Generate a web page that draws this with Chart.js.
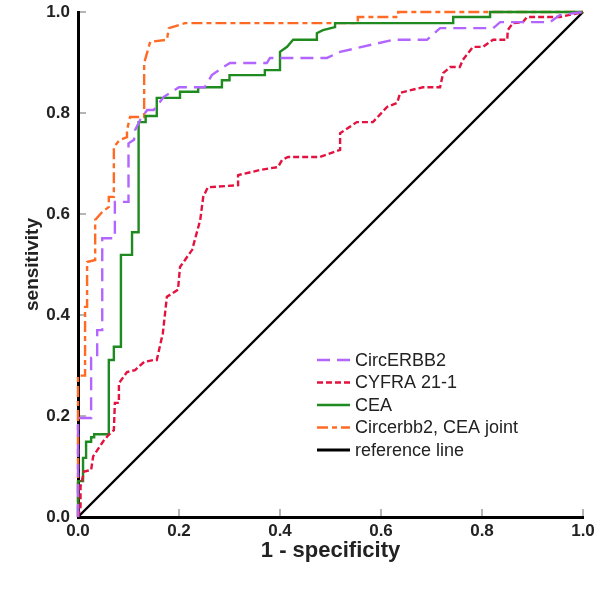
<!DOCTYPE html>
<html>
<head>
<meta charset="utf-8">
<script src="https://cdn.jsdelivr.net/npm/chart.js@4"></script>
<style>
  html, body { margin: 0; padding: 0; background: #fff; }
  canvas { display: block; }
</style>
</head>
<body>
<canvas id="roc" width="600" height="594"></canvas>
<script>
// ROC curves (x = 1 - specificity, y = sensitivity)
const circX = [0, 0, 0.026, 0.026, 0.038, 0.038, 0.048, 0.048, 0.073, 0.073, 0.1, 0.1, 0.111, 0.113, 0.123, 0.137, 0.15, 0.17, 0.186, 0.2, 0.251, 0.265, 0.285, 0.301, 0.374, 0.38, 0.493, 0.519, 0.624, 0.691, 0.717, 0.822, 0.836, 0.935, 0.954, 1];
const circY = [0, 0.196, 0.196, 0.315, 0.315, 0.37, 0.37, 0.552, 0.552, 0.624, 0.624, 0.74, 0.747, 0.766, 0.786, 0.806, 0.806, 0.832, 0.842, 0.851, 0.851, 0.875, 0.889, 0.899, 0.899, 0.909, 0.909, 0.921, 0.945, 0.945, 0.968, 0.968, 0.98, 0.98, 0.994, 1];

const cyfraX = [0, 0.005, 0.005, 0.012, 0.026, 0.03, 0.05, 0.06, 0.071, 0.073, 0.081, 0.081, 0.097, 0.113, 0.131, 0.15, 0.156, 0.168, 0.176, 0.198, 0.202, 0.226, 0.242, 0.248, 0.257, 0.317, 0.317, 0.36, 0.396, 0.404, 0.416, 0.479, 0.519, 0.519, 0.552, 0.584, 0.612, 0.632, 0.638, 0.683, 0.717, 0.723, 0.737, 0.756, 0.762, 0.782, 0.802, 0.822, 0.85, 0.851, 0.861, 0.881, 0.889, 0.954, 1];
const cyfraY = [0, 0.02, 0.06, 0.09, 0.093, 0.12, 0.15, 0.162, 0.172, 0.226, 0.226, 0.265, 0.287, 0.291, 0.307, 0.311, 0.311, 0.364, 0.436, 0.45, 0.495, 0.529, 0.588, 0.634, 0.653, 0.657, 0.677, 0.687, 0.693, 0.707, 0.713, 0.713, 0.727, 0.76, 0.782, 0.782, 0.812, 0.82, 0.84, 0.851, 0.851, 0.879, 0.891, 0.891, 0.905, 0.931, 0.931, 0.945, 0.945, 0.964, 0.978, 0.98, 0.99, 0.99, 1];

const ceaX = [0, 0, 0.01, 0.01, 0.016, 0.016, 0.026, 0.026, 0.032, 0.032, 0.061, 0.061, 0.071, 0.071, 0.085, 0.085, 0.107, 0.107, 0.12, 0.12, 0.134, 0.134, 0.156, 0.156, 0.202, 0.202, 0.238, 0.238, 0.285, 0.285, 0.3, 0.3, 0.37, 0.37, 0.4, 0.4, 0.414, 0.426, 0.473, 0.473, 0.485, 0.509, 0.509, 0.743, 0.743, 0.816, 0.816, 1];
const ceaY = [0, 0.071, 0.071, 0.117, 0.117, 0.149, 0.149, 0.158, 0.158, 0.164, 0.164, 0.311, 0.311, 0.337, 0.337, 0.519, 0.519, 0.564, 0.564, 0.782, 0.782, 0.794, 0.794, 0.83, 0.83, 0.842, 0.842, 0.851, 0.851, 0.865, 0.865, 0.875, 0.875, 0.885, 0.885, 0.921, 0.931, 0.945, 0.945, 0.958, 0.964, 0.97, 0.978, 0.978, 0.99, 0.99, 1, 1];

const jointX = [0, 0, 0.014, 0.014, 0.018, 0.018, 0.034, 0.034, 0.048, 0.061, 0.061, 0.071, 0.071, 0.083, 0.097, 0.097, 0.103, 0.131, 0.131, 0.143, 0.176, 0.18, 0.212, 0.554, 0.554, 0.634, 0.634, 1];
const jointY = [0, 0.28, 0.28, 0.416, 0.416, 0.505, 0.509, 0.588, 0.604, 0.614, 0.634, 0.634, 0.733, 0.747, 0.752, 0.766, 0.792, 0.792, 0.899, 0.941, 0.945, 0.968, 0.978, 0.978, 0.99, 0.99, 1, 1];

const refX = [0, 1];
const refY = [0, 1];

const seriesNames = ['CircERBB2', 'CYFRA 21-1', 'CEA', 'Circerbb2, CEA joint', 'reference line'];
const axisTicks = [0, 0.2, 0.4, 0.6, 0.8, 1.0];

const pts = (xs, ys) => xs.map((x, i) => ({ x: x, y: ys[i] }));

// legend drawn inside the plot, from the dataset styles
const innerLegend = {
  id: 'innerLegend',
  afterDraw(chart) {
    const ctx = chart.ctx;
    ctx.save();
    ctx.font = '18px "Liberation Sans", Arial, sans-serif';
    ctx.textBaseline = 'middle';
    ctx.fillStyle = '#222';
    chart.data.datasets.forEach((ds, i) => {
      const y = 360 + i * 22.5;
      ctx.beginPath();
      ctx.strokeStyle = ds.borderColor;
      ctx.lineWidth = i === 4 ? 3 : 2.5;
      ctx.setLineDash(ds.borderDash || []);
      ctx.moveTo(317, y);
      ctx.lineTo(350, y);
      ctx.stroke();
      ctx.setLineDash([]);
      ctx.fillText(ds.label, 355, y + 1);
    });
    ctx.restore();
  }
};

const tickFont = { family: '"Liberation Sans", Arial, sans-serif', size: 17, weight: 'bold' };

// drop the label overflow padding so the plot area is set by layout.padding only
const noPad = s => { s.paddingLeft = 0; s.paddingRight = 0; s.paddingTop = 0; s.paddingBottom = 0; };

new Chart(document.getElementById('roc'), {
  type: 'scatter',
  data: {
    datasets: [
      { label: seriesNames[0], data: pts(circX, circY), borderColor: '#b266ff', borderDash: [13, 7] },
      { label: seriesNames[1], data: pts(cyfraX, cyfraY), borderColor: '#e3123f', borderDash: [6, 3] },
      { label: seriesNames[2], data: pts(ceaX, ceaY), borderColor: '#1f8a1f', borderDash: [] },
      { label: seriesNames[3], data: pts(jointX, jointY), borderColor: '#ff6b24', borderDash: [11, 4, 5, 4] },
      { label: seriesNames[4], data: pts(refX, refY), borderColor: '#000000', borderDash: [] }
    ].map(ds => Object.assign(ds, {
      showLine: true, pointRadius: 0, borderWidth: 2.4, tension: 0, clip: false, fill: false
    }))
  },
  options: {
    responsive: false,
    animation: false,
    devicePixelRatio: 1,
    layout: { padding: { left: 0, right: 17, top: 12, bottom: 0 } },
    plugins: { legend: { display: false }, tooltip: { enabled: false } },
    scales: {
      x: {
        type: 'linear', min: 0, max: 1,
        afterBuildTicks: s => { s.ticks = axisTicks.map(v => ({ value: v })); },
        ticks: { callback: v => v.toFixed(1), font: tickFont, color: '#222', padding: 12 },
        grid: { drawOnChartArea: false, tickLength: -8, color: '#b5b5b5', lineWidth: 2 },
        border: { color: '#000', width: 3 },
        title: { display: true, text: '1 - specificity', font: { family: '"Liberation Sans", Arial, sans-serif', size: 22, weight: 'bold' }, color: '#222', padding: { top: 0, bottom: 30 } },
        afterFit: s => { s.height = 77; noPad(s); }
      },
      y: {
        type: 'linear', min: 0, max: 1,
        afterBuildTicks: s => { s.ticks = axisTicks.map(v => ({ value: v })); },
        ticks: { callback: v => v.toFixed(1), font: tickFont, color: '#222', padding: 16 },
        grid: { drawOnChartArea: false, tickLength: -8, color: '#b5b5b5', lineWidth: 2 },
        border: { color: '#000', width: 3 },
        title: { display: true, text: 'sensitivity', font: { family: '"Liberation Sans", Arial, sans-serif', size: 19, weight: 'bold' }, color: '#222', padding: { top: 21, bottom: 0 } },
        afterFit: s => { s.width = 78; noPad(s); }
      }
    }
  },
  plugins: [innerLegend]
});
</script>
</body>
</html>
